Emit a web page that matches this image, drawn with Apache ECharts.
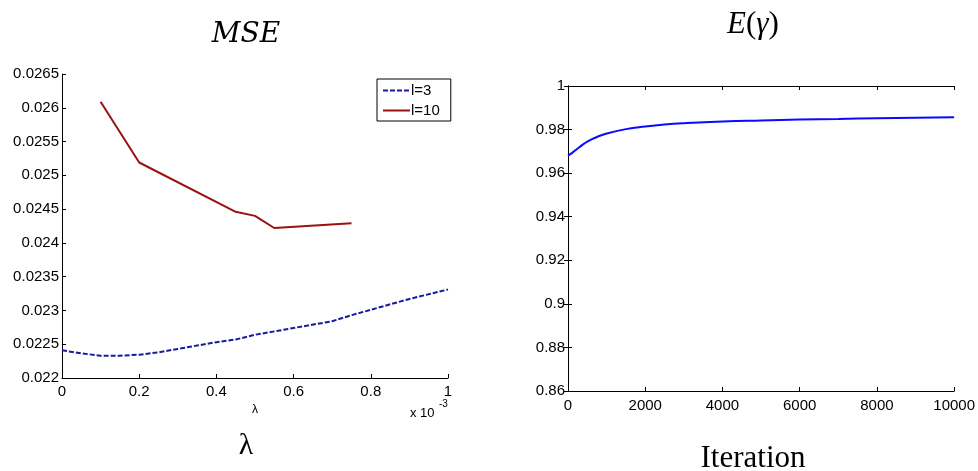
<!DOCTYPE html>
<html>
<head>
<meta charset="utf-8">
<script src="https://cdn.jsdelivr.net/npm/echarts@6/dist/echarts.min.js"></script>
<style>html,body{margin:0;padding:0;background:#fff;}#main{width:978px;height:471px;}</style>
</head>
<body>
<div id="main"></div>
<script>
// Left panel: MSE vs lambda (x in units of 1e-3)
const lambdaL3 = [0, 0.05, 0.1, 0.15, 0.2, 0.25, 0.3, 0.35, 0.4, 0.45, 0.5, 0.55, 0.6, 0.7, 0.75, 0.8, 0.9, 1.0];
const mseL3 = [0.02241, 0.022365, 0.02233, 0.02233, 0.022345, 0.02238, 0.02243, 0.02248, 0.02253, 0.02257, 0.02264, 0.02269, 0.02274, 0.02284, 0.02293, 0.02301, 0.02317, 0.02331];
const lambdaL10 = [0.1, 0.2, 0.45, 0.5, 0.55, 0.75];
const mseL10 = [0.02609, 0.02519, 0.02446, 0.0244, 0.02422, 0.02429];
const seriesNames = ['l=3', 'l=10'];
// Right panel: E(gamma) vs iteration
const iterX = [0, 100, 200, 300, 500, 750, 1000, 1500, 2000, 2500, 3000, 4000, 5000, 6000, 7000, 8000, 9000, 10000];
const eGamma = [0.9680, 0.9692, 0.9706, 0.9720, 0.9745, 0.9766, 0.9782, 0.9802, 0.9814, 0.9823, 0.9829, 0.9837, 0.9842, 0.9846, 0.9849, 0.9852, 0.9854, 0.9856];
// Texts
const titleLeft = 'MSE';
const captionLeft = 'λ';
const captionRight = 'Iteration';
const xNameLeft = 'λ';

const zip = (a, b) => a.map((v, i) => [v, b[i]]);
const chart = echarts.init(document.getElementById('main'), null, {renderer: 'canvas'});
const lblFont = {fontFamily: 'Liberation Sans', fontSize: 15, color: '#000'};
const axLine = {show: true, lineStyle: {color: '#000', width: 1}};
const tick = {show: true, inside: true, length: 4, lineStyle: {color: '#000', width: 1}};
const plain = v => String(v);

chart.setOption({
  animation: false,
  backgroundColor: '#fff',
  grid: [
    {left: 62, top: 74, width: 386, height: 304},
    {left: 568, top: 86, width: 387, height: 305}
  ],
  xAxis: [
    {gridIndex: 0, type: 'value', min: 0, max: 1, interval: 0.2,
     axisLine: axLine, axisTick: tick, splitLine: {show: false},
     axisLabel: Object.assign({margin: 6}, lblFont),
     name: xNameLeft, nameLocation: 'middle', nameGap: 25,
     nameTextStyle: {fontFamily: 'Liberation Sans', fontSize: 12, color: '#000'}},
    {gridIndex: 1, type: 'value', min: 0, max: 10000, interval: 2000,
     axisLine: axLine, axisTick: tick, splitLine: {show: false},
     axisLabel: Object.assign({margin: 7, formatter: plain}, lblFont)},
    {gridIndex: 1, type: 'value', position: 'top', min: 0, max: 10000, interval: 2000,
     axisLine: axLine, axisTick: tick, splitLine: {show: false}, axisLabel: {show: false}}
  ],
  yAxis: [
    {gridIndex: 0, type: 'value', min: 0.022, max: 0.0265, interval: 0.0005,
     axisLine: axLine, axisTick: tick, splitLine: {show: false},
     axisLabel: Object.assign({margin: 3}, lblFont)},
    {gridIndex: 1, type: 'value', min: 0.86, max: 1, interval: 0.02,
     axisLine: axLine, axisTick: tick, splitLine: {show: false},
     axisLabel: Object.assign({margin: 3}, lblFont)},
    {gridIndex: 1, type: 'value', position: 'right', min: 0.86, max: 1, interval: 0.02,
     axisLine: axLine, axisTick: tick, splitLine: {show: false}, axisLabel: {show: false}}
  ],
  legend: {
    left: 377, top: 79, orient: 'vertical',
    data: seriesNames,
    itemWidth: 27, itemHeight: 12, itemGap: 5,
    padding: [4, 11, 3, 5],
    borderColor: '#000', borderWidth: 1, backgroundColor: '#fff',
    itemStyle: {color: 'rgba(0,0,0,0)', borderColor: 'rgba(0,0,0,0)', borderWidth: 0, opacity: 0},
    textStyle: {fontFamily: 'Liberation Sans', fontSize: 15, color: '#000', padding: [0, 0, 0, -4]}
  },
  series: [
    {name: seriesNames[0], type: 'line', xAxisIndex: 0, yAxisIndex: 0, data: zip(lambdaL3, mseL3),
     symbol: 'none', lineStyle: {color: '#1a1a9c', width: 2, type: [5, 2]}, itemStyle: {color: '#1a1a9c'}},
    {name: seriesNames[1], type: 'line', xAxisIndex: 0, yAxisIndex: 0, data: zip(lambdaL10, mseL10),
     symbol: 'none', lineStyle: {color: '#991111', width: 2}, itemStyle: {color: '#991111'}},
    {name: 'E', type: 'line', xAxisIndex: 1, yAxisIndex: 1, data: zip(iterX, eGamma),
     symbol: 'none', smooth: true, lineStyle: {color: '#0a0aff', width: 2}, itemStyle: {color: '#0a0aff'}}
  ],
  graphic: [
    {type: 'text', style: {text: titleLeft, x: 246, y: 35, align: 'center', verticalAlign: 'middle',
      font: 'italic 28px "DejaVu Serif"', fill: '#000'}},
    {type: 'text', style: {text: '{i|E}{r|(}{i|γ}{r|)}', x: 753, y: 25, align: 'center', verticalAlign: 'middle',
      rich: {i: {fontFamily: 'Liberation Serif', fontStyle: 'italic', fontSize: 31, fill: '#000'},
             r: {fontFamily: 'Liberation Serif', fontSize: 31, fill: '#000'}}}},
    {type: 'text', style: {text: captionLeft, x: 246, y: 446, align: 'center', verticalAlign: 'middle',
      font: '30px "Liberation Serif"', fill: '#000'}},
    {type: 'text', style: {text: captionRight, x: 753, y: 459, align: 'center', verticalAlign: 'middle',
      font: '31px "Liberation Serif"', fill: '#000'}},
    {type: 'text', style: {text: 'x 10', x: 410, y: 413, align: 'left', verticalAlign: 'middle',
      font: '13px "Liberation Sans"', fill: '#000'}},
    {type: 'text', style: {text: '-3', x: 439, y: 404, align: 'left', verticalAlign: 'middle',
      font: '10px "Liberation Sans"', fill: '#000'}}
  ]
});
</script>
</body>
</html>
